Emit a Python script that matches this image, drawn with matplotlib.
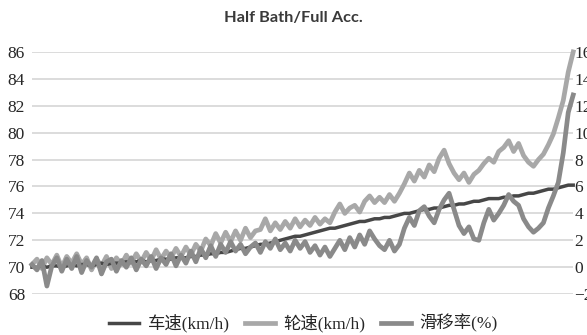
import numpy as np
import matplotlib
matplotlib.use('agg')
import matplotlib.pyplot as plt
from matplotlib.ticker import FixedLocator

TITLE = "Half Bath/Full Acc."
LEGEND_LABELS = ["车速(km/h)", "轮速(km/h)", "滑移率(%)"]

# vehicle speed, km/h
car_speed = [
    70.0, 70.0, 70.1, 70.0, 70.1, 70.1, 70.0, 70.1, 70.2, 70.1,
    70.2, 70.2, 70.1, 70.2, 70.3, 70.2, 70.3, 70.3, 70.3, 70.4,
    70.4, 70.4, 70.5, 70.4, 70.5, 70.5, 70.6, 70.6, 70.6, 70.7,
    70.7, 70.7, 70.8, 70.8, 70.9, 70.9, 71.0, 71.0, 71.1, 71.1,
    71.2, 71.3, 71.4, 71.4, 71.5, 71.6, 71.7, 71.7, 71.8, 71.9,
    72.0, 72.1, 72.2, 72.3, 72.3, 72.4, 72.5, 72.6, 72.7, 72.8,
    72.9, 72.9, 73.0, 73.1, 73.2, 73.3, 73.4, 73.4, 73.5, 73.6,
    73.6, 73.7, 73.7, 73.8, 73.9, 74.0, 74.0, 74.1, 74.2, 74.3,
    74.3, 74.4, 74.4, 74.5, 74.6, 74.6, 74.7, 74.7, 74.8, 74.9,
    74.9, 75.0, 75.1, 75.1, 75.1, 75.2, 75.2, 75.3, 75.3, 75.4,
    75.5, 75.5, 75.6, 75.7, 75.8, 75.8, 75.9, 76.0, 76.1, 76.1,
]

# wheel speed, km/h
wheel_speed = [
    70.2, 70.6, 69.9, 70.7, 70.2, 70.9, 70.0, 70.8, 70.3, 71.0,
    70.2, 70.7, 69.8, 70.6, 70.1, 70.8, 69.9, 70.7, 70.2, 70.9,
    70.3, 71.0, 70.4, 71.1, 70.5, 71.3, 70.6, 71.2, 70.7, 71.4,
    70.8, 71.5, 70.9, 71.7, 71.2, 72.1, 71.6, 72.5, 71.8, 72.6,
    71.9, 72.7, 72.0, 72.9, 72.2, 72.7, 72.8, 73.6, 72.7, 73.3,
    72.8, 73.4, 72.9, 73.6, 73.0, 73.5, 73.1, 73.7, 73.2, 73.6,
    73.3, 74.1, 74.7, 74.0, 74.4, 74.6, 74.1, 74.9, 75.3, 74.8,
    75.2, 74.8, 75.4, 74.9, 75.5, 76.2, 77.0, 76.4, 77.2, 76.7,
    77.6, 77.1, 78.1, 78.7, 77.7, 77.0, 76.5, 77.0, 76.3, 76.9,
    77.2, 77.7, 78.1, 77.8, 78.6, 78.9, 79.4, 78.6, 79.2, 78.3,
    77.8, 77.5, 78.0, 78.4, 79.1, 79.9, 81.1, 82.4, 84.5, 86.0,
]

# slip ratio, %
slip_rate = [
    0.2, -0.2, 0.5, -1.4, 0.1, 0.7, -0.3, 0.6, -0.1, 0.8,
    -0.4, 0.5, 0.0, 0.7, -0.5, 0.4, 0.6, -0.3, 0.5, 0.0,
    0.7, -0.2, 0.6, 0.1, 0.8, -0.1, 0.7, 0.2, 1.0, 0.1,
    0.9, 0.3, 1.2, 0.4, 1.4, 0.7, 1.6, 0.8, 1.7, 1.1,
    1.9, 1.2, 1.7, 1.0, 1.5, 1.8, 1.1, 1.9, 1.4, 2.1,
    1.3, 1.8, 1.2, 2.0, 1.4, 1.9, 1.1, 1.6, 0.9, 1.5,
    0.8, 1.4, 2.0, 1.3, 2.2, 1.5, 2.4, 1.7, 2.7, 2.1,
    1.6, 1.3, 2.0, 1.2, 1.7, 2.9, 3.7, 3.1, 4.2, 4.5,
    3.8, 3.3, 4.3, 5.0, 5.5, 4.3, 3.1, 2.5, 3.0, 2.1,
    2.0, 3.3, 4.3, 3.5, 4.0, 4.6, 5.4, 4.9, 4.6, 3.6,
    3.0, 2.6, 2.9, 3.3, 4.4, 5.3, 6.3, 8.5, 11.5, 12.8,
]

left_ticks = [68, 70, 72, 74, 76, 78, 80, 82, 84, 86]
right_ticks = [-2, 0, 2, 4, 6, 8, 10, 12, 14, 16]

CAR_COLOR = '#474747'
WHEEL_COLOR = '#a8a8a8'
SLIP_COLOR = '#8a8a8a'
GRID_COLOR = '#d9d9d9'
TEXT_COLOR = '#262626'

serif = ['Liberation Serif', 'Noto Sans CJK SC']

fig = plt.figure(figsize=(5.87, 3.35), dpi=100)
ax = fig.add_axes([0.0545, 0.122, 0.922, 0.723])
ax2 = ax.twinx()

x = np.arange(len(car_speed))

l1, = ax.plot(x, car_speed, color=CAR_COLOR, lw=2.5, zorder=3, clip_on=False)
l2, = ax.plot(x, wheel_speed, color=WHEEL_COLOR, lw=3.4, zorder=2, clip_on=False)
l3, = ax2.plot(x, slip_rate, color=SLIP_COLOR, lw=3.4, clip_on=False)

ax.set_xlim(0, len(car_speed) - 1)
ax.set_ylim(left_ticks[0], left_ticks[-1])
ax2.set_ylim(right_ticks[0], right_ticks[-1])
ax.yaxis.set_major_locator(FixedLocator(left_ticks))
ax2.yaxis.set_major_locator(FixedLocator(right_ticks))
ax.set_xticks([])

ax.grid(axis='y', color=GRID_COLOR, lw=1.3)
ax.set_axisbelow(True)
for a in (ax, ax2):
    for s in a.spines.values():
        s.set_visible(False)
    a.tick_params(axis='y', length=0, labelsize=12.5, labelcolor=TEXT_COLOR)

ax.tick_params(axis='y', pad=5)
ax2.tick_params(axis='y', pad=1)
for lab in ax.get_yticklabels() + ax2.get_yticklabels():
    lab.set_family(serif)

fig.text(0.5, 0.945, TITLE, ha='center', va='center', fontsize=11.8,
         family='Lato', fontweight='bold', color='#3a3a3a')

fig.legend([l1, l2, l3], LEGEND_LABELS, loc='center', bbox_to_anchor=(0.517, 0.035),
           ncol=3, frameon=False, handlelength=1.7, columnspacing=0.9,
           handletextpad=0.5, prop={'family': serif, 'size': 12.5},
           labelcolor=TEXT_COLOR)

fig.savefig('out.png', dpi=100)
